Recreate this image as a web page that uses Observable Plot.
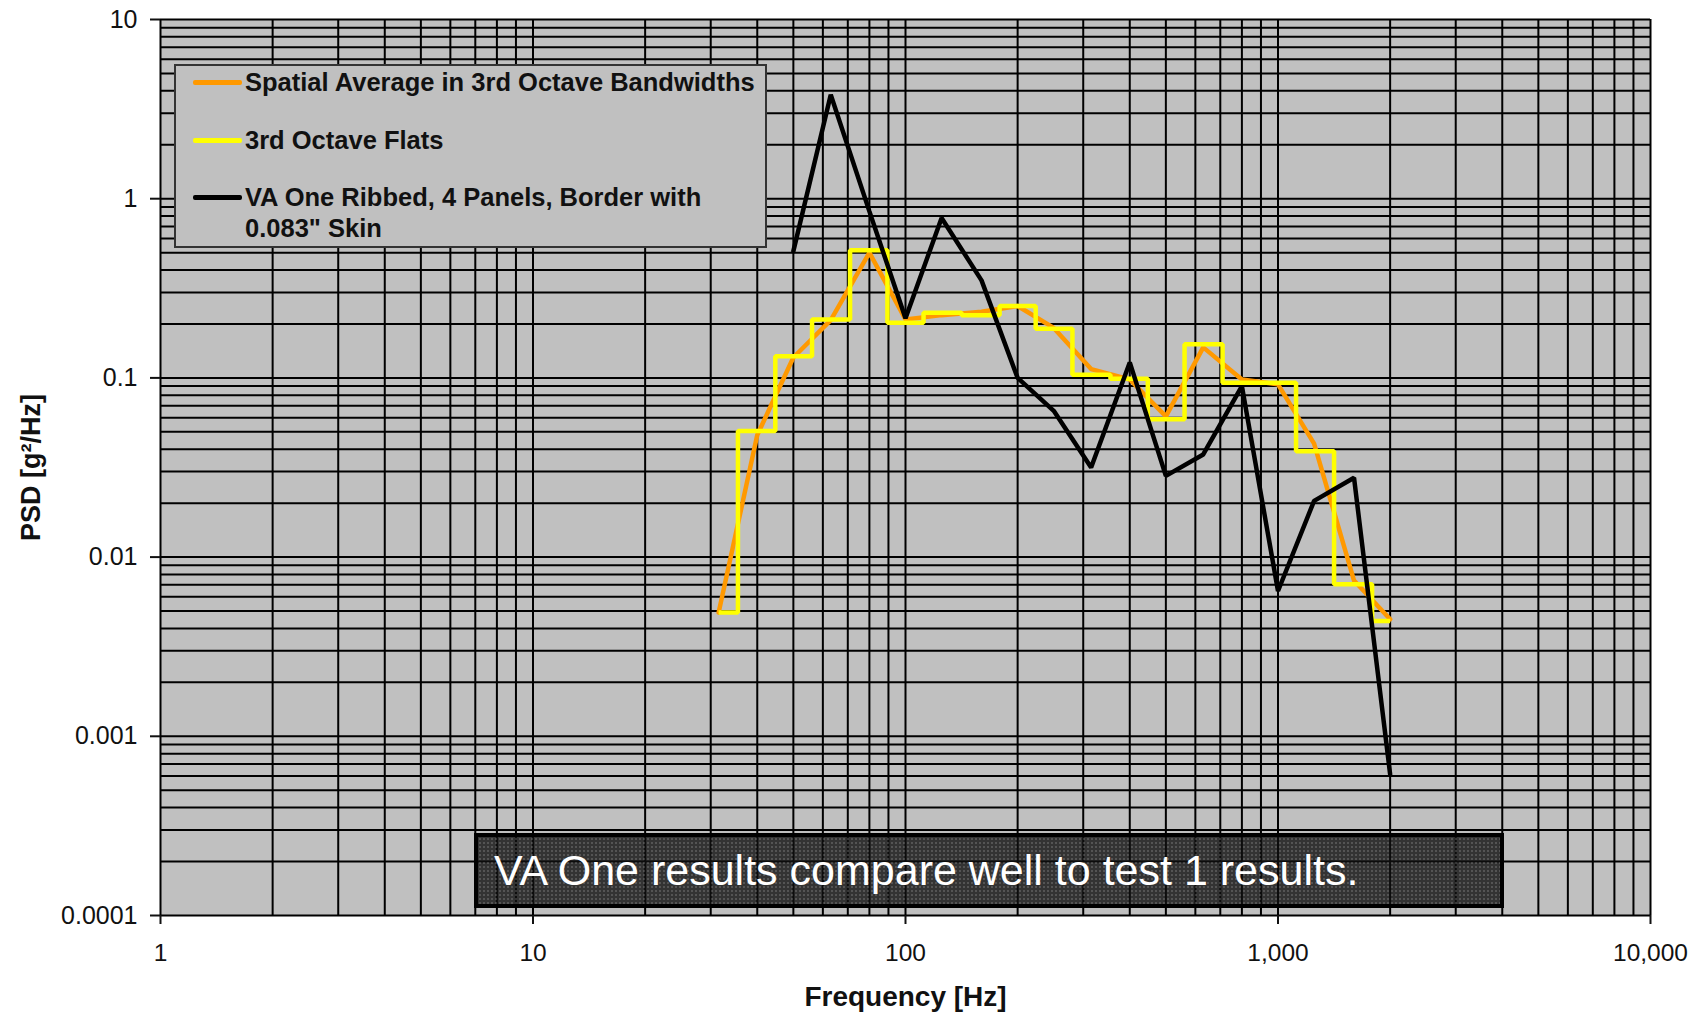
<!DOCTYPE html>
<html>
<head>
<meta charset="utf-8">
<script src="https://cdn.jsdelivr.net/npm/d3@7"></script>
<script src="https://cdn.jsdelivr.net/npm/@observablehq/plot@0.6"></script>
<style>
  html, body { margin: 0; padding: 0; background: #fff; }
  #wrap { position: relative; width: 1705px; height: 1015px; overflow: hidden;
          font-family: "Liberation Sans", Arial, sans-serif; }
  #wrap svg { display: block; }
  #legend { position: absolute; left: 174px; top: 64px; width: 589px; height: 180px;
            background: #c0c0c0; border: 2px solid #333; }
  #legend .sw { position: absolute; left: 17px; width: 49px; height: 5px; }
  #legend .lt { position: absolute; left: 69px; font-weight: bold; font-size: 25.5px;
                line-height: 31px; color: #111; white-space: nowrap; }
  #note { position: absolute; left: 474px; top: 833px; width: 1006px; height: 67px;
          border: 4px solid #000;
          background: radial-gradient(rgba(255,255,255,0.16) 0.8px, transparent 1px) 0 0 / 4px 4px,
                      rgba(15,15,15,0.8);
          color: #fff; font-size: 43px; line-height: 67px; padding-left: 16px; box-sizing: content-box;
          white-space: nowrap; }
</style>
</head>
<body>
<div id="wrap"></div>
<script>
// ---- data ----
const bandHz = [31.5, 40, 50, 63, 80, 100, 125, 160, 200, 250, 315, 400, 500, 630, 800, 1000, 1250, 1600, 2000];
const spatialAvg = [0.0049, 0.048, 0.13, 0.21, 0.50, 0.212, 0.224, 0.234, 0.252, 0.19, 0.112, 0.098, 0.061, 0.148, 0.098, 0.092, 0.043, 0.0074, 0.0045];
const octaveFlats = [0.0049, 0.0506, 0.132, 0.212, 0.515, 0.203, 0.231, 0.224, 0.252, 0.188, 0.104, 0.099, 0.0587, 0.154, 0.094, 0.094, 0.039, 0.00705, 0.0044];
const vaOneHz = [50, 63, 80, 100, 125, 160, 200, 250, 315, 400, 500, 630, 800, 1000, 1250, 1600, 2000];
const vaOnePsd = [0.51, 3.8, 0.85, 0.215, 0.78, 0.35, 0.1, 0.0655, 0.0316, 0.122, 0.0284, 0.0374, 0.09, 0.00647, 0.0206, 0.0277, 0.000614];
const xTicks = [1, 10, 100, 1000, 10000];
const yTicks = [10, 1, 0.1, 0.01, 0.001, 0.0001];
const seriesNames = ["Spatial Average in 3rd Octave Bandwidths", "3rd Octave Flats", "VA One Ribbed, 4 Panels, Border with 0.083\" Skin"];
const seriesColors = ["#ff9900", "#ffff00", "#000000"];
const xTitle = "Frequency [Hz]";
const yTitle = "PSD [g\u00b2/Hz]";
const noteText = "VA One results compare well to test 1 results.";

// ---- derived tables ----
const mult = [1, 2, 3, 4, 5, 6, 7, 8, 9];
const xGrid = [];
for (let k = 0; k < 4; k++) mult.forEach(m => xGrid.push(m * 10 ** k));
xGrid.push(10000);
const yGrid = [];
for (let k = -4; k < 1; k++) mult.forEach(m => yGrid.push(+(m * 10 ** k).toPrecision(6)));
yGrid.push(10);

const spatialRows = bandHz.map((f, i) => ({f, psd: spatialAvg[i]}));
const vaRows = vaOneHz.map((f, i) => ({f, psd: vaOnePsd[i]}));
// step: each band flat from its lower edge (geometric mid with previous band) to the next band's edge
const flatRows = bandHz.map((f, i) => ({f: i === 0 ? f : Math.sqrt(bandHz[i - 1] * f), psd: octaveFlats[i]}));
flatRows.push({f: bandHz[bandHz.length - 1], psd: octaveFlats[octaveFlats.length - 1]});

const chart = Plot.plot({
  width: 1705,
  height: 1015,
  marginLeft: 160,
  marginRight: 55,
  marginTop: 19,
  marginBottom: 100,
  x: {type: "log", domain: [1, 10000]},
  y: {type: "log", domain: [0.0001, 10]},
  style: {fontFamily: '"Liberation Sans", Arial, sans-serif', fontSize: "24px", color: "#111", background: "#fff", overflow: "visible"},
  marks: [
    Plot.frame({fill: "#c0c0c0", stroke: null}),
    Plot.ruleX(xGrid, {stroke: "#000", strokeWidth: 2}),
    Plot.ruleY(yGrid, {stroke: "#000", strokeWidth: 2}),
    Plot.axisX({ticks: xTicks, tickFormat: d3.format(","), tickSize: 9, tickPadding: 19, fontSize: 24.5, label: null, strokeWidth: 2}),
    Plot.axisY({ticks: yTicks, tickFormat: d => String(d), tickSize: 10, tickPadding: 13, fontSize: 25, label: null, strokeWidth: 2}),
    Plot.line(spatialRows, {x: "f", y: "psd", stroke: seriesColors[0], strokeWidth: 4.5}),
    Plot.line(flatRows, {x: "f", y: "psd", stroke: seriesColors[1], strokeWidth: 4.5, curve: "step-after", strokeLinejoin: "miter", strokeLinecap: "butt"}),
    Plot.line(vaRows, {x: "f", y: "psd", stroke: seriesColors[2], strokeWidth: 4.5, strokeLinejoin: "miter"}),
    Plot.text([xTitle], {text: d => d, frameAnchor: "bottom", dy: 82, lineAnchor: "middle", textAnchor: "middle", fontWeight: "bold", fontSize: 28, fill: "#111"}),
    Plot.text([yTitle], {text: d => d, frameAnchor: "left", dx: -129, rotate: -90, textAnchor: "middle", lineAnchor: "middle", fontWeight: "bold", fontSize: 27, fill: "#111"})
  ]
});

const wrap = document.getElementById("wrap");
wrap.appendChild(chart);

// legend (inside plot area, top-left)
const legend = document.createElement("div");
legend.id = "legend";
const rowCenters = [16, 74, 131];
seriesNames.forEach((name, i) => {
  const sw = document.createElement("div");
  sw.className = "sw";
  sw.style.top = (rowCenters[i] - 2.5) + "px";
  sw.style.background = seriesColors[i];
  sw.style.borderRadius = "2px";
  legend.appendChild(sw);
  const lt = document.createElement("div");
  lt.className = "lt";
  lt.style.top = (rowCenters[i] - 15.5) + "px";
  if (i === 2) {
    lt.innerHTML = "VA One Ribbed, 4 Panels, Border with<br>0.083\" Skin";
  } else {
    lt.textContent = name;
  }
  legend.appendChild(lt);
});
wrap.appendChild(legend);

// annotation box
const note = document.createElement("div");
note.id = "note";
note.textContent = noteText;
wrap.appendChild(note);
</script>
</body>
</html>
